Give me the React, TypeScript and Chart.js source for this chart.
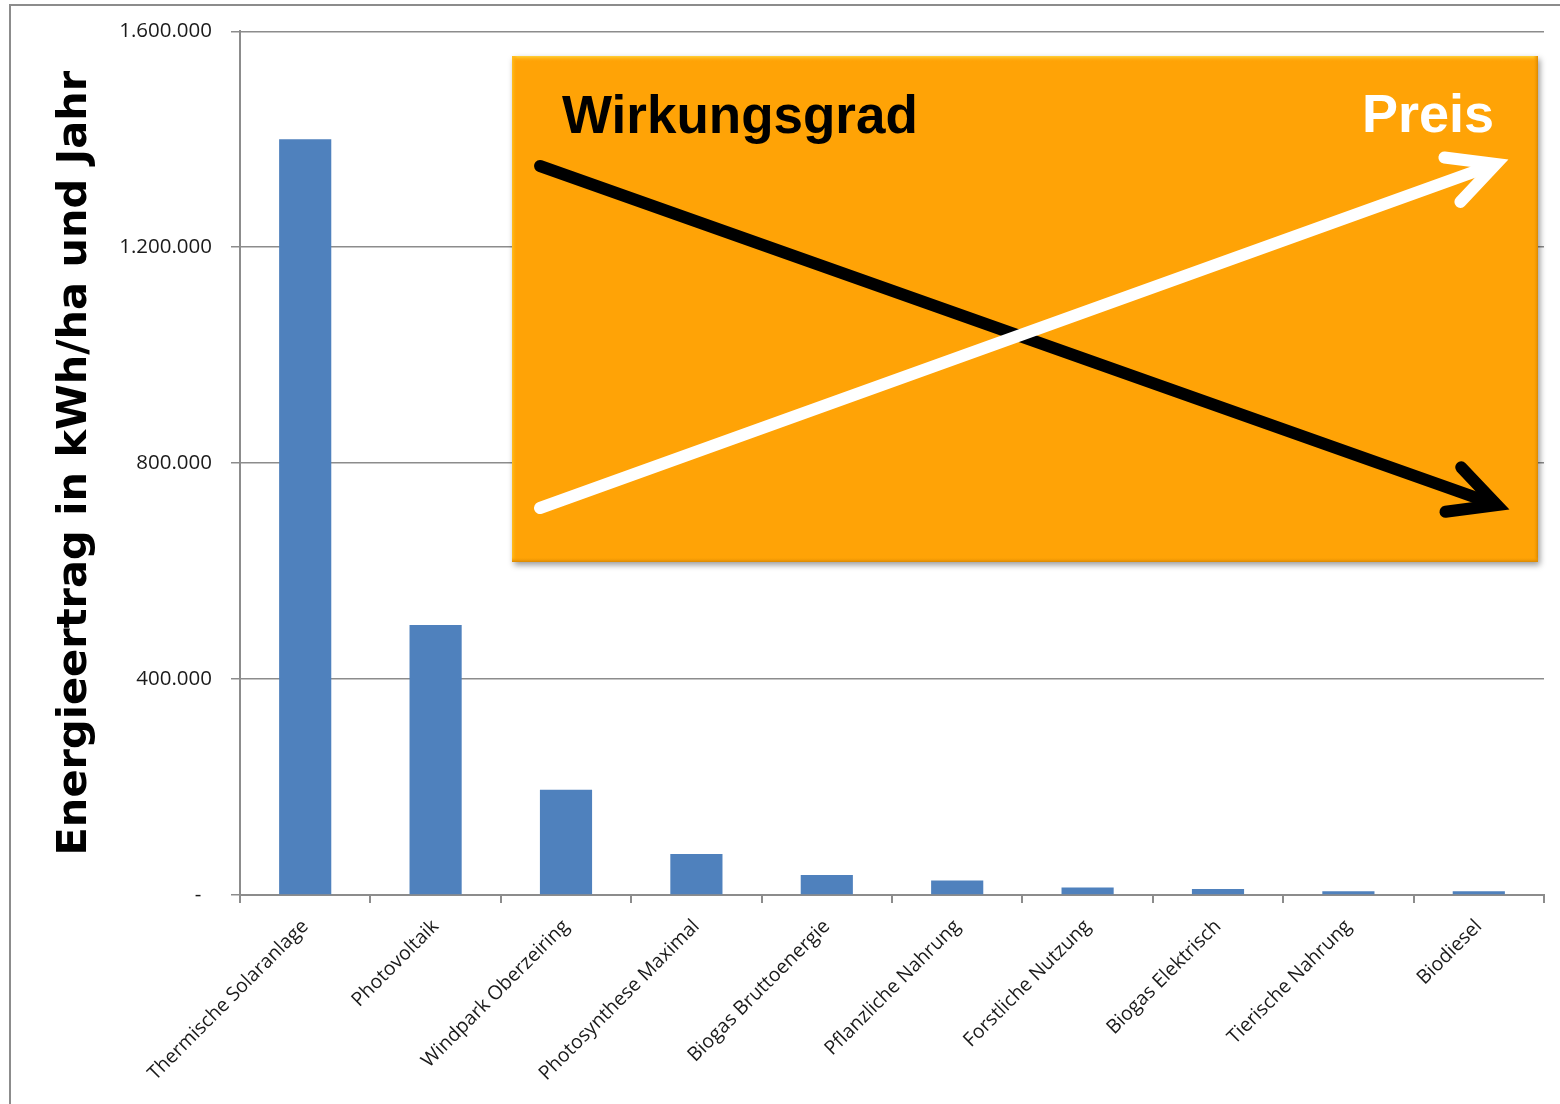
import React, { useEffect, useRef } from 'react';
import { Chart, registerables } from 'chart.js';

Chart.register(...registerables);

const categories = [
  'Thermische Solaranlage',
  'Photovoltaik',
  'Windpark Oberzeiring',
  'Photosynthese Maximal',
  'Biogas Bruttoenergie',
  'Pflanzliche Nahrung',
  'Forstliche Nutzung',
  'Biogas Elektrisch',
  'Tierische Nahrung',
  'Biodiesel',
];
const energyValues = [1400000, 500000, 195000, 76000, 37000, 27000, 14000, 11000, 7000, 7000];
const yTickValues = [0, 400000, 800000, 1200000, 1600000];
const yTickLabels = ['-  ', '400.000', '800.000', '1.200.000', '1.600.000'];
const yAxisTitle = 'Energieertrag in kWh/ha und Jahr';
const overlayLeftText = 'Wirkungsgrad';
const overlayRightText = 'Preis';

function drawArrow(ctx: CanvasRenderingContext2D, x1: number, y1: number, x2: number, y2: number, color: string) {
  const ang = Math.atan2(y2 - y1, x2 - x1);
  const len = 52;
  const spread = (27 * Math.PI) / 180;
  ctx.strokeStyle = color;
  ctx.lineWidth = 12;
  ctx.lineCap = 'round';
  ctx.lineJoin = 'miter';
  ctx.beginPath();
  ctx.moveTo(x1, y1);
  ctx.lineTo(x2 - Math.cos(ang) * 8, y2 - Math.sin(ang) * 8);
  ctx.stroke();
  ctx.beginPath();
  ctx.moveTo(x2 - Math.cos(ang - spread) * len, y2 - Math.sin(ang - spread) * len);
  ctx.lineTo(x2, y2);
  ctx.lineTo(x2 - Math.cos(ang + spread) * len, y2 - Math.sin(ang + spread) * len);
  ctx.stroke();
}

const framePlugin = {
  id: 'frame',
  beforeDraw(chart: any) {
    const ctx = chart.ctx as CanvasRenderingContext2D;
    ctx.save();
    ctx.fillStyle = '#ffffff';
    ctx.fillRect(0, 0, chart.width, chart.height);
    ctx.strokeStyle = '#8c8c8c';
    ctx.lineWidth = 2;
    ctx.strokeRect(10, 5, chart.width + 20, chart.height + 20);
    ctx.restore();
  },
};

const overlayPlugin = {
  id: 'overlay',
  afterDraw(chart: any) {
    const ctx = chart.ctx as CanvasRenderingContext2D;
    const bx = 512, by = 56, bw = 1026, bh = 506;
    ctx.save();
    ctx.shadowColor = 'rgba(0,0,0,0.4)';
    ctx.shadowBlur = 6;
    ctx.shadowOffsetX = 2;
    ctx.shadowOffsetY = 3;
    ctx.fillStyle = '#FFA306';
    ctx.fillRect(bx, by, bw, bh);
    ctx.shadowColor = 'transparent';
    let g = ctx.createLinearGradient(0, by, 0, by + 6);
    g.addColorStop(0, '#FFD23A');
    g.addColorStop(1, 'rgba(255,163,6,0)');
    ctx.fillStyle = g;
    ctx.fillRect(bx, by, bw, 6);
    g = ctx.createLinearGradient(bx, 0, bx + 5, 0);
    g.addColorStop(0, '#FFC020');
    g.addColorStop(1, 'rgba(255,163,6,0)');
    ctx.fillStyle = g;
    ctx.fillRect(bx, by, 5, bh);
    g = ctx.createLinearGradient(bx + bw - 5, 0, bx + bw, 0);
    g.addColorStop(0, 'rgba(255,163,6,0)');
    g.addColorStop(1, '#D98800');
    ctx.fillStyle = g;
    ctx.fillRect(bx + bw - 5, by, 5, bh);
    g = ctx.createLinearGradient(0, by + bh - 5, 0, by + bh);
    g.addColorStop(0, 'rgba(255,163,6,0)');
    g.addColorStop(1, '#D98800');
    ctx.fillStyle = g;
    ctx.fillRect(bx, by + bh - 5, bw, 5);

    ctx.textBaseline = 'alphabetic';
    ctx.font = 'bold 53px "Liberation Sans", Arial, sans-serif';
    ctx.fillStyle = '#000000';
    ctx.textAlign = 'left';
    ctx.fillText(overlayLeftText, 562, 133);
    ctx.font = 'bold 54px "Liberation Sans", Arial, sans-serif';
    ctx.fillStyle = '#ffffff';
    ctx.textAlign = 'right';
    ctx.fillText(overlayRightText, 1494, 132);

    drawArrow(ctx, 540, 166, 1497, 505, '#000000');
    drawArrow(ctx, 540, 508, 1496, 164, '#ffffff');
    ctx.restore();
  },
};

export default function App() {
  const canvasRef = useRef<HTMLCanvasElement | null>(null);

  useEffect(() => {
    if (!canvasRef.current) return;
    const chart = new Chart(canvasRef.current, {
      type: 'bar',
      data: {
        labels: categories,
        datasets: [
          {
            data: energyValues,
            backgroundColor: '#4F81BD',
            borderWidth: 0,
            categoryPercentage: 1,
            barPercentage: 0.4,
          },
        ],
      },
      options: {
        animation: false,
        responsive: true,
        maintainAspectRatio: false,
        layout: { padding: { left: 0, top: 29, right: 16, bottom: 0 } },
        plugins: {
          legend: { display: false },
          tooltip: { enabled: false },
        },
        scales: {
          x: {
            offset: true,
            grid: {
              offset: true,
              drawOnChartArea: false,
              drawTicks: true,
              tickLength: 8,
              color: '#8c8c8c',
              lineWidth: 2,
            },
            border: { color: '#8c8c8c', width: 2 },
            ticks: {
              maxRotation: 45,
              minRotation: 45,
              autoSkip: false,
              padding: 12,
              color: '#1a1a1a',
              font: { family: '"Open Sans", sans-serif', size: 19.5 },
            },
            afterFit: (scale: any) => {
              scale.height = 209;
            },
          },
          y: {
            min: 0,
            max: 1600000,
            grid: {
              color: '#8c8c8c',
              lineWidth: 1.5,
              drawTicks: true,
              tickLength: 9,
            },
            border: { color: '#8c8c8c', width: 2 },
            ticks: {
              stepSize: 400000,
              padding: 19,
              color: '#1a1a1a',
              font: { family: '"Open Sans", sans-serif', size: 20.5 },
              callback: (value: any) => {
                const i = yTickValues.indexOf(Number(value));
                return i >= 0 ? yTickLabels[i] : '';
              },
            },
            title: {
              display: true,
              text: yAxisTitle,
              color: '#000000',
              font: { family: '"DejaVu Sans", sans-serif', size: 41.5, weight: 'bold' },
              padding: { top: 50, bottom: 0 },
            },
            afterFit: (scale: any) => {
              scale.width = 240;
            },
          },
        },
      },
      plugins: [framePlugin, overlayPlugin],
    });
    return () => chart.destroy();
  }, []);

  return (
    <div style={{ position: 'absolute', left: 0, top: 0, width: 1560, height: 1104, background: '#fff' }}>
      <canvas ref={canvasRef} />
    </div>
  );
}
